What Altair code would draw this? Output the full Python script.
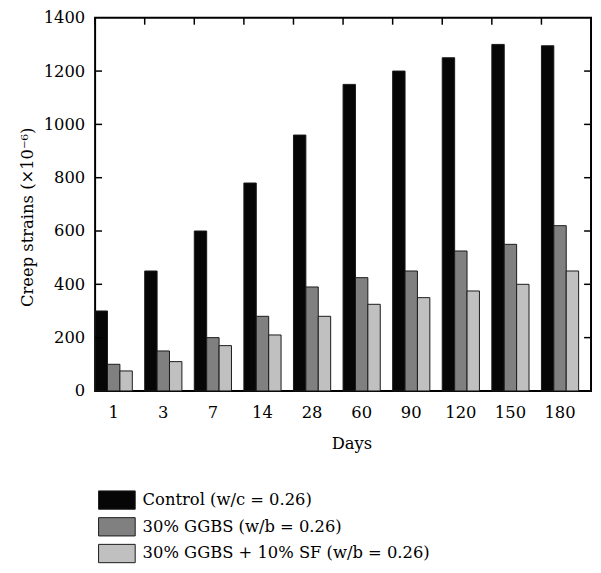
import altair as alt
import pandas as pd

days = ["1", "3", "7", "14", "28", "60", "90", "120", "150", "180"]
series = ["Control (w/c = 0.26)", "30% GGBS (w/b = 0.26)", "30% GGBS + 10% SF (w/b = 0.26)"]
control = [300, 450, 600, 780, 960, 1150, 1200, 1250, 1300, 1295]
ggbs = [100, 150, 200, 280, 390, 425, 450, 525, 550, 620]
ggbs_sf = [75, 110, 170, 210, 280, 325, 350, 375, 400, 450]
colors = ["#060606", "#808080", "#c0c0c0"]
y_ticks = [0, 200, 400, 600, 800, 1000, 1200, 1400]

rows = []
for s, vals in zip(series, [control, ggbs, ggbs_sf]):
    for d, v in zip(days, vals):
        rows.append({"day": d, "series": s, "value": v})
df = pd.DataFrame(rows)
leg_df = pd.DataFrame({"series": series})
day_df = pd.DataFrame({"day": days})
ytick_df = pd.DataFrame({"tick": y_ticks[1:-1]})

FONT = "DejaVu Serif"
FS = 16.5
W, H = 501, 377
TICK = 7

xscale = alt.Scale(domain=days, paddingInner=0, paddingOuter=0)
yscale = alt.Scale(domain=[0, 1400], nice=False)
cscale = alt.Scale(domain=series, range=colors)

bars = alt.Chart(df).mark_bar(stroke="#1a1a1a", strokeWidth=1).encode(
    x=alt.X("day:N", scale=xscale, sort=days,
            axis=alt.Axis(title="Days", labelAngle=0, ticks=False, domain=False,
                          labelOffset=-6.25, labelPadding=14, titlePadding=15,
                          titleX=259,
                          labelFont=FONT, labelFontSize=FS, titleFont=FONT,
                          titleFontSize=FS, titleFontWeight="normal",
                          labelColor="black", titleColor="black")),
    xOffset=alt.XOffset("series:N",
                        scale=alt.Scale(domain=series + ["_gap"], paddingInner=0, paddingOuter=0)),
    y=alt.Y("value:Q", scale=yscale,
            axis=alt.Axis(values=y_ticks, format="d", title="Creep strains (×10⁻⁶)",
                          ticks=False, domain=False, grid=False, labelPadding=10.5,
                          titlePadding=8, titleY=201,
                          labelFont=FONT, labelFontSize=FS, titleFont=FONT,
                          titleFontSize=FS, titleFontWeight="normal",
                          labelColor="black", titleColor="black")),
    color=alt.Color("series:N", scale=cscale, legend=None),
)

top_ticks = alt.Chart(day_df).mark_rule(color="black", strokeWidth=1.5).encode(
    x=alt.X("day:N", scale=xscale, sort=days, bandPosition=0),
    y=alt.value(0), y2=alt.value(TICK),
)
right_ticks = alt.Chart(ytick_df).mark_rule(color="black", strokeWidth=1.5).encode(
    y=alt.Y("tick:Q", scale=yscale),
    x=alt.value(W - TICK), x2=alt.value(W),
)
left_ticks = alt.Chart(ytick_df).mark_rule(color="black", strokeWidth=1.5).encode(
    y=alt.Y("tick:Q", scale=yscale),
    x=alt.value(0), x2=alt.value(TICK),
)

main = alt.layer(bars, top_ticks, right_ticks, left_ticks).properties(width=W, height=H)

leg_rect = alt.Chart(leg_df).mark_rect(stroke="#1a1a1a", strokeWidth=1).encode(
    x=alt.value(3.5), x2=alt.value(40.5),
    y=alt.Y("series:N", sort=series,
            scale=alt.Scale(domain=series, paddingInner=0.315, paddingOuter=0), axis=None),
    color=alt.Color("series:N", scale=cscale, legend=None),
)
leg_text = alt.Chart(leg_df).mark_text(align="left", baseline="middle", font=FONT,
                                       fontSize=FS, color="black").encode(
    x=alt.value(48),
    y=alt.Y("series:N", sort=series, axis=None),
    text="series:N",
)
legend = alt.layer(leg_rect, leg_text).properties(
    width=W, height=72.5, view=alt.ViewBackground(stroke="transparent")
)

chart = alt.vconcat(main, legend, spacing=36).properties(
    padding={"left": 10, "top": -2, "right": 0, "bottom": 0}
).configure_view(stroke="black", strokeWidth=2).configure_axis(grid=False)

chart.save("out.html", embed_options={"renderer": "svg", "actions": False})
